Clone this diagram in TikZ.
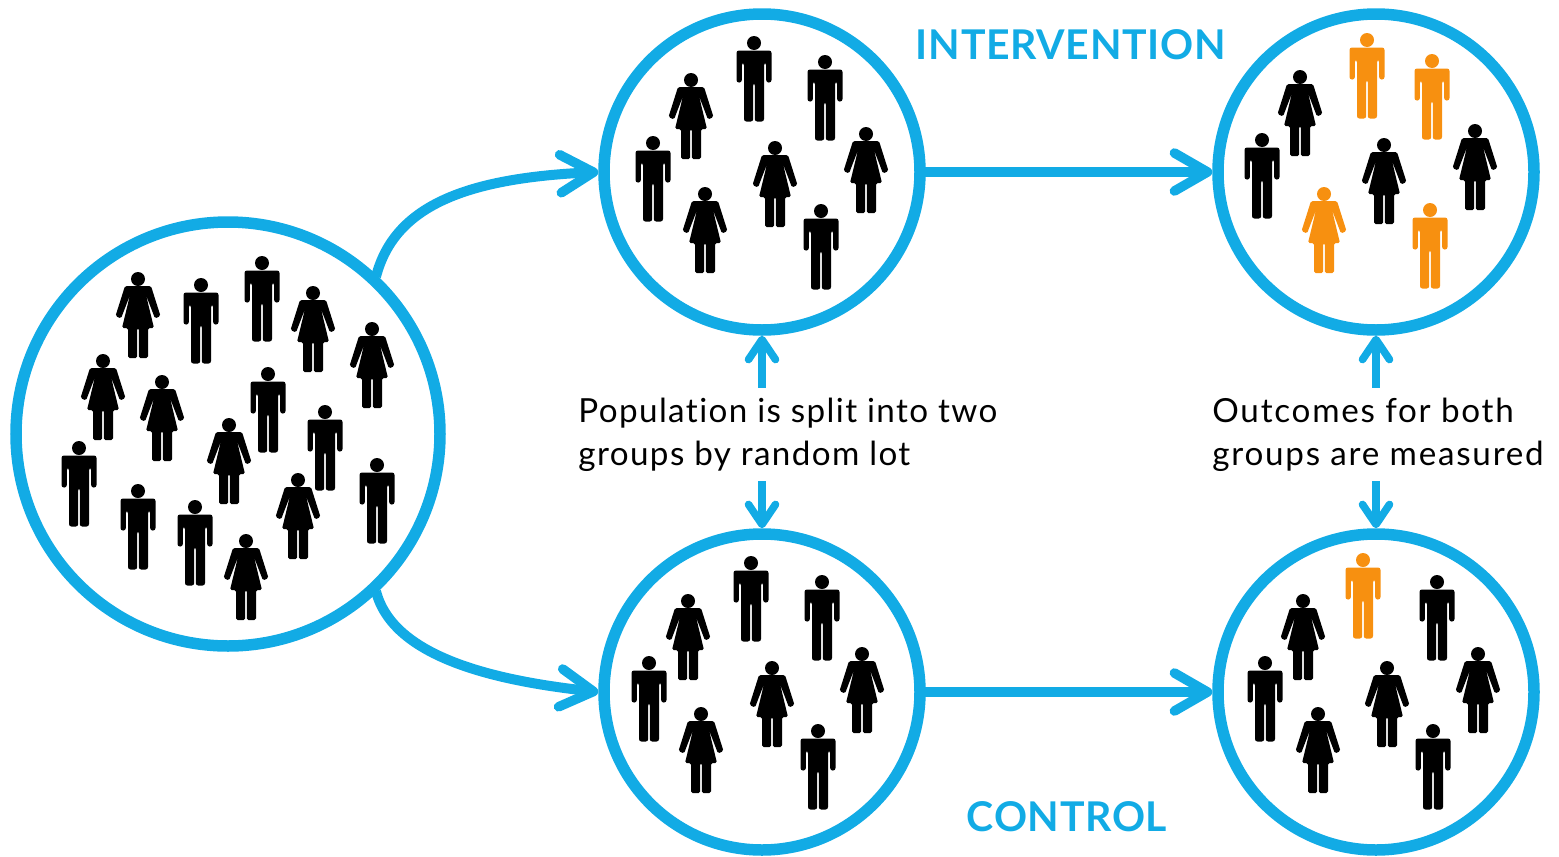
\documentclass[tikz,border=0pt]{standalone}
\usepackage{fontspec}
\setmainfont{Lato}[Ligatures=NoCommon]
\usepackage{tikz}
\usetikzlibrary{arrows.meta}
\definecolor{ringColor}{HTML}{12ABE5}
\definecolor{figOrange}{HTML}{F79010}
\tikzstyle{arrow} = [draw=ringColor, line width=5pt, shorten <=-1pt, -{Straight Barb[round, length=16.5pt, width=19pt, line width=4.8pt]}]
\tikzstyle{arrowsmall} = [draw=ringColor, line width=3.8pt, -{Straight Barb[round, length=10pt, width=13.5pt, line width=3.8pt]}]

\tikzset{
  man/.pic={
    \fill[pic actions] (0,7) circle[radius=7];
    \fill[pic actions, rounded corners=1.2pt] (0,14.5) -- (17.5,14.5) -- (17.5,46.5) -- (12.2,46.5) -- (12.2,27) -- (10,27) -- (10,85.5) -- (0.8,85.5) -- (0.8,47) -- (-0.8,47) -- (-0.8,85.5) -- (-10,85.5) -- (-10,27) -- (-12.2,27) -- (-12.2,46.5) -- (-17.5,46.5) -- (-17.5,14.5) -- cycle;
  },
  woman/.pic={
    \fill[pic actions] (0,7) circle[radius=7];
    \fill[pic actions, rounded corners=0.8pt] (0,14) -- (13,14) -- (22.5,44) -- (17,46.5) -- (8,23) -- (16,56) -- (10,56) -- (10,86) -- (0.8,86) -- (0.8,56) -- (-0.8,56) -- (-0.8,86) -- (-10,86) -- (-10,56) -- (-16,56) -- (-8,23) -- (-17,46.5) -- (-22.5,44) -- (-13,14) -- cycle;
  }
}

\begin{document}
\begin{tikzpicture}[
    x=0.5pt, y=-0.5pt,
    bigring/.style={draw=ringColor, circle, line width=5.75pt, inner sep=0pt, minimum size=212pt},
    ring/.style={draw=ringColor, circle, line width=5.75pt, inner sep=0pt, minimum size=158pt},
    note/.style={align=left, anchor=west, inner sep=0pt, minimum height=46.5pt, font=\fontsize{16.6}{21.5}\selectfont\addfontfeature{LetterSpace=#1}},
    armlabel/.style={text=ringColor, inner sep=0pt, font=\fontsize{20.5}{24}\selectfont\bfseries\addfontfeature{LetterSpace=1.7}}
]
\useasboundingbox (0,0) rectangle (1559,857);

% Groups
\node[bigring] (population) at (228,434) {};
\node[ring] (treat) at (762,172) {};
\node[ring] (treatEnd) at (1376,172) {};
\node[ring] (ctrl) at (762,692) {};
\node[ring] (ctrlEnd) at (1376,692) {};

% Labels
\node[armlabel] (intervention) at (1071,45) {INTERVENTION};
\node[armlabel] (control) at (1067,817) {CONTROL};
\node[note=4.2] (split) at (578,434.5) {Population is split into two\\groups by random lot};
\node[note=5.3] (outcome) at (1212,434.5) {Outcomes for both\\groups are measured};

% Draw lines
\draw[arrow] (population.47) .. controls +(18,-70) and +(-130,6) .. (treat.west);
\draw[arrow] (population.-47) .. controls +(16,62) and +(-110,-12) .. (ctrl.west);
\draw[arrow] (treat.east) -- (treatEnd.west);
\draw[arrow] (ctrl.east) -- (ctrlEnd.west);
\draw[arrowsmall] (split.north -| treat.south) -- (treat.south);
\draw[arrowsmall] (split.south -| ctrl.north) -- (ctrl.north);
\draw[arrowsmall] (outcome.north -| treatEnd.south) -- (treatEnd.south);
\draw[arrowsmall] (outcome.south -| ctrlEnd.north) -- (ctrlEnd.north);

% Population
\foreach \px/\py in {201/278, 262/256, 268/367, 325/405, 79/441, 138/484, 195/500, 377/458}
  \pic at (\px,\py) {man};
\foreach \px/\py in {138/272, 313/286, 372/322, 103/354, 162/375, 229/418, 298/473, 246/534}
  \pic at (\px,\py) {woman};

% Intervention
\foreach \px/\py in {754/36, 825/55, 653/136, 821/204}
  \pic at (\px,\py) {man};
\foreach \px/\py in {691/73, 775/141, 866/127, 705/187}
  \pic at (\px,\py) {woman};
\pic at (1262,133) {man};
\foreach \px/\py in {1300/70, 1384/138, 1475/124}
  \pic at (\px,\py) {woman};
\foreach \px/\py in {1367/33, 1432/54, 1430/203}
  \pic[fill=figOrange] at (\px,\py) {man};
\pic[fill=figOrange] at (1324,187) {woman};

% Control
\foreach \px/\py in {751/556, 822/575, 649/656, 818/724}
  \pic at (\px,\py) {man};
\foreach \px/\py in {688/594, 772/661, 862/647, 701/707}
  \pic at (\px,\py) {woman};
\foreach \px/\py in {1437/575, 1265/656, 1433/724}
  \pic at (\px,\py) {man};
\foreach \px/\py in {1303/594, 1387/661, 1478/647, 1318/707}
  \pic at (\px,\py) {woman};
\pic[fill=figOrange] at (1363,553) {man};
\end{tikzpicture}
\end{document}
